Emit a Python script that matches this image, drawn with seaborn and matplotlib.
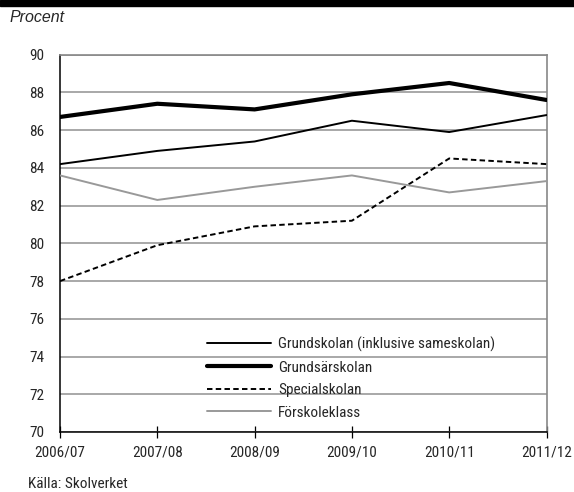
import pandas as pd
import seaborn as sns
import matplotlib.pyplot as plt
import matplotlib.patches as patches

years = ['2006/07', '2007/08', '2008/09', '2009/10', '2010/11', '2011/12']
grundskolan = [84.2, 84.9, 85.4, 86.5, 85.9, 86.8]
grundsarskolan = [86.7, 87.4, 87.1, 87.9, 88.5, 87.6]
specialskolan = [78.0, 79.9, 80.9, 81.2, 84.5, 84.2]
forskoleklass = [83.6, 82.3, 83.0, 83.6, 82.7, 83.3]

series_names = ['Grundskolan (inklusive sameskolan)', 'Grundsärskolan',
                'Specialskolan', 'Förskoleklass']
series_values = [grundskolan, grundsarskolan, specialskolan, forskoleklass]

sns.set_style('white')
plt.rcParams['font.family'] = ['Roboto Condensed', 'DejaVu Sans']

fig = plt.figure(figsize=(5.74, 4.92), dpi=100)
ax = fig.add_axes([60 / 574, 1 - 432 / 492, 486.5 / 574, 377.3 / 492])

styles = [
    dict(color='black', lw=1.4, ls='-'),
    dict(color='black', lw=3.0, ls='-'),
    dict(color='black', lw=1.4, ls=(0, (2.8, 1.7))),
    dict(color='#999999', lw=1.4, ls='-'),
]

x = list(range(len(years)))
for name, vals, st in zip(series_names, series_values, styles):
    df = pd.DataFrame({'x': x, 'y': vals})
    sns.lineplot(data=df, x='x', y='y', ax=ax, label=name,
                 color=st['color'], linewidth=st['lw'], linestyle=st['ls'],
                 zorder=3)

ax.set_xlim(0, 5)
ax.set_ylim(70, 90)
ax.set_yticks(range(70, 91, 2))
ax.set_xticks(x)
ax.set_xticklabels(years)
ax.set_xlabel('')
ax.set_ylabel('')
ax.grid(axis='y', color='#999999', lw=1.2)
ax.set_axisbelow(True)

for side in ['top', 'right']:
    ax.spines[side].set_color('#888888')
    ax.spines[side].set_linewidth(1.2)
for side in ['left', 'bottom']:
    ax.spines[side].set_color('black')
    ax.spines[side].set_linewidth(1.1)

ax.tick_params(axis='x', bottom=True, direction='inout', length=9, width=0.9,
               color='black', labelsize=11, pad=5.5)
ax.tick_params(axis='y', length=0, labelsize=11, pad=11)

ax.legend(loc='upper left', bbox_to_anchor=(147 / 486.5, 1 - 282 / 377.3),
          frameon=False, fontsize=11, handlelength=4.2, borderpad=0,
          handletextpad=0.45, labelspacing=0.56, borderaxespad=0)

# black title bar at the very top (cut off in the source)
fig.patches.append(patches.Rectangle((0, 1 - 6 / 492), 1, 6 / 492,
                                     transform=fig.transFigure,
                                     color='black', zorder=0))

fig.text(10 / 574, 1 - 18 / 492, 'Procent', fontsize=11.5, style='italic',
         family=['Liberation Sans', 'DejaVu Sans'], va='center')
fig.text(28 / 574, 1 - 484 / 492, 'Källa: Skolverket', fontsize=11,
         va='center')

fig.savefig('out.png', dpi=100)
